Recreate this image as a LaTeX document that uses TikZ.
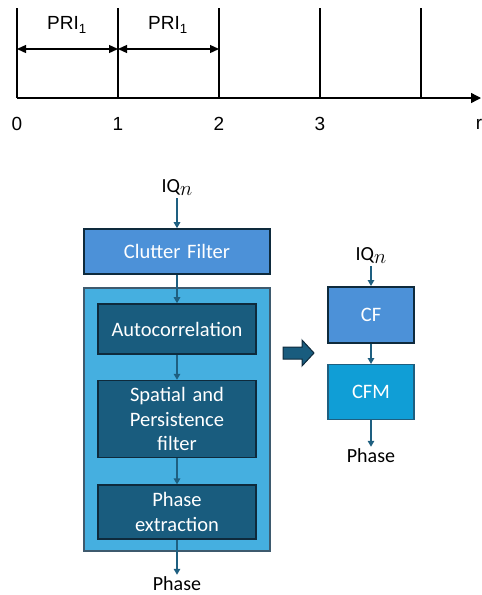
\documentclass[tikz,border=0pt]{standalone}
\usepackage{fontspec}
\setmainfont{Carlito}
\newfontfamily\arialfont{Liberation Sans}
\usetikzlibrary{shapes,arrows.meta,positioning}

\definecolor{cfblue}{RGB}{76,145,216}
\definecolor{boxblue}{RGB}{69,175,224}
\definecolor{darkbox}{RGB}{25,92,126}
\definecolor{cfmblue}{RGB}{16,158,214}
\definecolor{edgedark}{RGB}{14,42,60}
\definecolor{edgegrey}{RGB}{62,90,110}
\definecolor{flowcol}{RGB}{30,95,128}

\begin{document}
\begin{tikzpicture}[
        x=1pt, y=-1pt,
        tick/.style={draw=black, line width=1.4pt},
        axisline/.style={draw=black, line width=1.4pt, -{Triangle[length=10pt,width=10pt]}},
        dim/.style={draw=black, line width=1.3pt,
            {Triangle[length=9pt,width=8pt]}-{Triangle[length=9pt,width=8pt]}},
        arial/.style={font=\arialfont\fontsize{19}{21}\selectfont, inner sep=1pt},
        label/.style={font=\fontsize{20}{22}\selectfont, inner sep=2pt},
        block/.style={
            rectangle,
            draw=edgedark,
            line width=1.6pt,
            text=white,
            text width=150pt,
            align=center,
            inner sep=2pt,
            font=\fontsize{20.5}{24.5}\selectfont
        },
        frame/.style={rectangle, draw=edgegrey, fill=boxblue, line width=1.4pt,
            minimum width=186pt, minimum height=263pt},
        flow/.style={draw=flowcol, line width=1.4pt, -{Triangle[length=6pt,width=6.5pt]}},
        bigarrow/.style={draw=edgedark, fill=darkbox, line width=1pt, line join=miter}
    ]
        \useasboundingbox (0,0) rectangle (482,595);

        % -- Time axis --
        \foreach \i/\x in {0/17,1/118,2/219,3/320,4/421} {
            \coordinate (t\i) at (\x,98);
            \coordinate (top\i) at (\x,8);
            \coordinate (p\i) at (\x,49);
            \draw[tick] (top\i) -- (t\i);
        }
        \foreach \i in {0,...,3} {
            \node[arial] (n\i) at (t\i |- 0,124) {\i};
        }
        \coordinate (tend) at (481,98);
        \draw[axisline] (t0) -- (tend);
        \node[arial] (rlab) at (479,124) {r};

        % PRI intervals
        \node[arial] (pri1) at (67,25) {PRI\textsubscript{1}};
        \node[arial] (pri2) at (168,25) {PRI\textsubscript{1}};
        \draw[dim] (p0) -- (p1);
        \draw[dim] (p1) -- (p2);

        % -- Full chain --
        \node[block, fill=cfblue, minimum width=186pt, minimum height=45pt] (cfilt) at (177,251.5) {Clutter Filter};
        \node[label] (iq1) at (177,188) {IQ\raisebox{-3pt}{$n$}};
        \node[frame] (outer) at (177,419.5) {};
        \node[block, fill=darkbox, minimum width=158pt, minimum height=50pt] (auto) at (177,329) {Autocorrelation};
        \node[block, fill=darkbox, minimum width=158pt, minimum height=77pt, below=25pt of auto] (spat) {Spatial and\\Persistence\\filter};
        \node[block, fill=darkbox, minimum width=158pt, minimum height=54pt, below=26pt of spat] (phex) {Phase\\extraction};
        \node[label] (ph1) at (177,584) {Phase};

        \path[flow] (iq1) -- (cfilt);
        \path[flow] (cfilt) -- (auto);
        \path[flow] (auto) -- (spat);
        \path[flow] (spat) -- (phex);
        \path[flow] (phex) -- (ph1);

        % -- Compact chain --
        \filldraw[bigarrow] (283,347) -- (302,347) -- (302,340) -- (314,353)
            -- (302,366) -- (302,359) -- (283,359) -- cycle;
        \node[block, fill=cfblue, text width=80pt, line width=2pt, minimum width=86pt, minimum height=56pt] (cf) at (371,315) {CF};
        \node[label] (iq2) at (371,256) {IQ\raisebox{-3pt}{$n$}};
        \node[block, fill=cfmblue, draw=flowcol, text width=80pt, line width=1.4pt, minimum width=86pt, minimum height=55pt, below=20pt of cf] (cfm) {CFM};
        \node[label] (ph2) at (371,456) {Phase};

        \path[flow] (iq2) -- (cf);
        \path[flow] (cf) -- (cfm);
        \path[flow] (cfm) -- (ph2);

    \end{tikzpicture}
\end{document}
